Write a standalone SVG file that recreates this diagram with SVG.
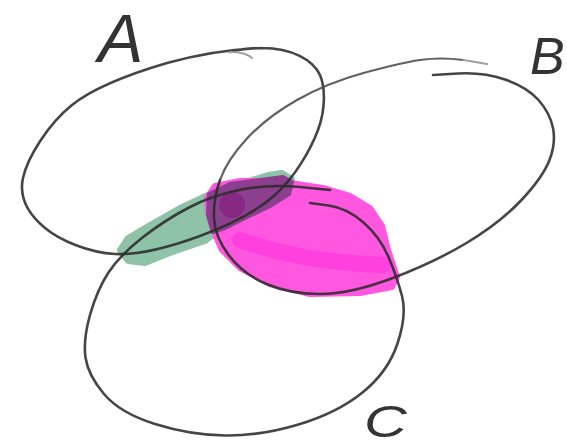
<svg xmlns="http://www.w3.org/2000/svg" width="567" height="448" viewBox="0 0 567 448">
<style>
.pen{fill:none;stroke:#2b2b2b;stroke-width:2.6;stroke-linecap:round;stroke-linejoin:round;opacity:0.88}
.light{fill:none;stroke:#444;stroke-width:2.2;stroke-linecap:round;stroke-linejoin:round;opacity:0.85}
.faint{fill:none;stroke:#a0a0a0;stroke-width:2;stroke-linecap:round}
.lbl{font-family:"Liberation Sans",Arial,sans-serif;font-style:italic;fill:#333}
</style>
<rect width="567" height="448" fill="#ffffff"/>
<g id="fills">
<path d="M120,250 L128,238 L150,225 L180,208 L212,193 L245,182 L268,175 L282,173 L292,179 L290,193 L275,203 L250,215 L220,230 L205,241 L170,253 L145,263 L128,261 Z" fill="#8ec3a7" stroke="#8ec3a7" stroke-width="6" stroke-linejoin="round"/>
<path d="M207,198 L215,186 L240,181 L277,181 L323,188 L350,196 L370,208 L382,226 L388,250 L397,277 L392,287 L360,293 L310,294 L270,284 L240,268 L222,250 L213,230 L208,212 Z" fill="#ff57e0" stroke="#ff57e0" stroke-width="6" stroke-linejoin="round"/>
<path d="M240,240 Q300,262 383,265" fill="none" stroke="#ff2edc" stroke-width="16" stroke-linecap="round" opacity="0.6"/>
<path d="M209,194 L230,184 L260,180 L283,177 L292,182 L289,194 L270,206 L245,218 L225,228 L213,232 L208,215 Z" fill="#8c3f8e" stroke="#8c3f8e" stroke-width="4" stroke-linejoin="round"/>
<circle cx="232" cy="205" r="13" fill="#84207f" opacity="0.7"/>
</g>
<g id="circle-A">
<path class="pen" d="M262,48 C230,49 200,54 167,63 C135.3,72.3 96,85.8 72,105 C48,124.2 27.5,157.5 23,178 C18.5,198.5 29.7,215.3 45,228 C60.3,240.7 89.2,252.7 115,254 C140.8,255.3 173.3,245.8 200,236 C226.7,226.2 255.3,212.7 275,195 C294.7,177.3 310.5,150 318,130 C325.5,110 325.5,87.8 320,75 C313,60 292,48 262,48 Q244,48 230,52"/>
<path class="faint" d="M230,52 Q246,52 252,58"/>
</g>
<g id="circle-B">
<path class="pen" d="M433,75 L458,73.5 Q483,72 505,79.5 Q527,87 538.5,100 Q550,113 553,128 Q556,143 549.5,160 Q543,177 521.5,200 Q500,223 466.5,243 Q433,263 391.5,278.5 Q350,294 320,294 Q290,294 266.5,284 Q243,274 229,255.5 Q215,237 214,218.5 Q213,200 220,180"/>
<path class="light" d="M220,180 Q227,160 247,138.5 Q267,117 297,100 Q327,83 363.5,73 Q400,63 420,60 Q440,57 463.5,60"/>
<path class="faint" d="M463.5,60 L487,64"/>
</g>
<g id="circle-C">
<path class="pen" d="M310,203 L328.5,205.5 Q347,208 363.5,222.5 Q380,237 388.5,257 Q397,277 402,296 Q407,315 397.5,343.5 Q388,372 362.5,392.5 Q337,413 298.5,424.5 Q260,436 225,435.5 Q190,435 155,424 Q120,413 104,394 Q88,375 85.5,357.5 Q83,340 90,315 Q97,290 108.5,272.5 Q120,255 142.5,237.5 Q165,220 189,207.5 Q213,195 241.5,189.5 Q270,184 300,187 L330,190"/>
</g>
<g id="labels">
<text class="lbl" x="98" y="62" font-size="68">A</text>
<text class="lbl" x="530" y="74" font-size="52">B</text>
<text class="lbl" transform="translate(364,437) scale(1.35,1)" x="0" y="0" font-size="44">C</text>
</g>
</svg>
